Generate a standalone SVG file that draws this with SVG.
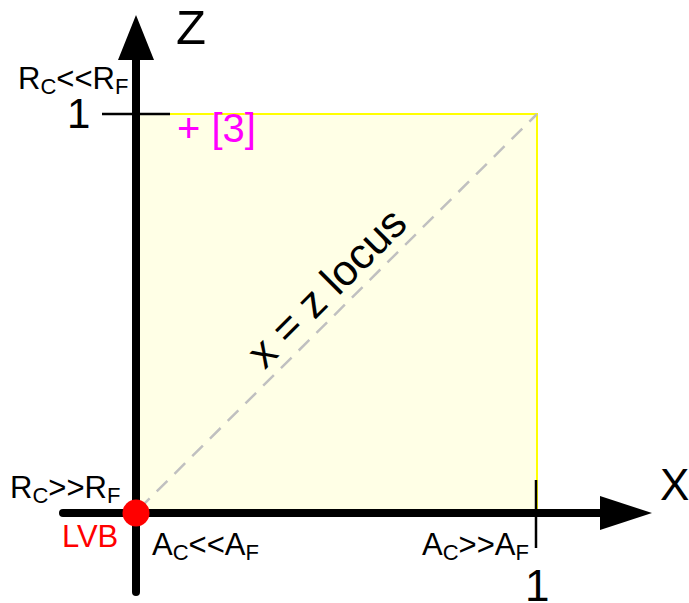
<svg xmlns="http://www.w3.org/2000/svg" width="689" height="603" viewBox="0 0 689 603">
<style>
text{font-family:"Liberation Sans",Arial,sans-serif;fill:#000}
.lab{font-size:31px}
.sub{font-size:22px}
.big{font-size:44px}
.axis{stroke:#000;stroke-width:8;stroke-linecap:round;fill:none}
.tick{stroke:#000;stroke-width:2.5;fill:none}
</style>
<rect width="689" height="603" fill="#fff"/>
<g id="region">
<rect x="138" y="114" width="399" height="396" fill="#FFFFE6" stroke="#FFFF00" stroke-width="2"/>
</g>
<g id="connectors">
<line x1="139" y1="509" x2="537" y2="114" stroke="#C0C0C0" stroke-width="2.5" stroke-dasharray="15,10"/>
<line class="axis" x1="136" y1="592" x2="136" y2="55"/>
<polygon points="136,15 118,60 154,60" fill="#000"/>
<line class="axis" x1="63" y1="513" x2="610" y2="513"/>
<polygon points="652,513 600,496 600,530" fill="#000"/>
<line class="tick" x1="102" y1="114" x2="170" y2="114"/>
<line class="tick" x1="536" y1="480" x2="536" y2="548"/>
</g>
<g id="labels">
<text class="big" x="176" y="44" style="font-size:49px">Z</text>
<text class="big" x="660" y="500">X</text>
<text class="big" x="67" y="128" style="font-size:42px">1</text>
<text class="big" x="525" y="601">1</text>
<text class="lab" x="18" y="89">R<tspan class="sub" dy="5">C</tspan><tspan dy="-5">&lt;&lt;R</tspan><tspan class="sub" dy="5">F</tspan></text>
<text class="lab" x="10" y="498">R<tspan class="sub" dy="5">C</tspan><tspan dy="-5">&gt;&gt;R</tspan><tspan class="sub" dy="5">F</tspan></text>
<text class="lab" x="152" y="555">A<tspan class="sub" dy="5">C</tspan><tspan dy="-5">&lt;&lt;A</tspan><tspan class="sub" dy="5">F</tspan></text>
<text class="lab" x="422" y="555">A<tspan class="sub" dy="5">C</tspan><tspan dy="-5">&gt;&gt;A</tspan><tspan class="sub" dy="5">F</tspan></text>
<text x="177" y="142" style="font-size:40px;fill:#FF00FF">+ [3]</text>
<text x="62" y="547" style="font-size:31px;fill:#FF0000">LVB</text>
<text x="337" y="298" text-anchor="middle" transform="rotate(-45 337 298)" style="font-size:43px">x = z locus</text>
</g>
<g id="lvb">
<circle cx="136" cy="513" r="13.5" fill="#FF0000"/>
</g>
</svg>
